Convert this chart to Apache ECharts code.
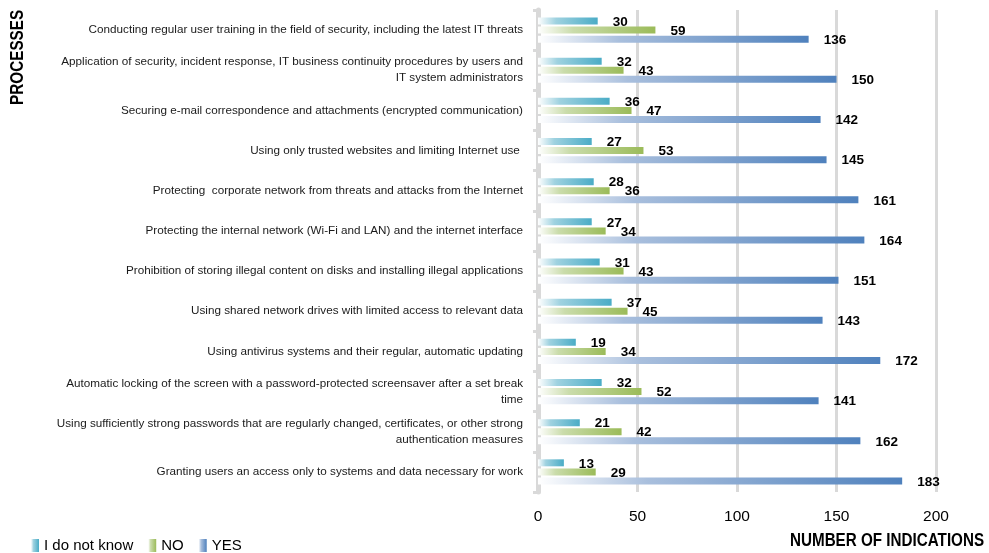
<!DOCTYPE html>
<html>
<head>
<meta charset="utf-8">
<script src="https://cdn.jsdelivr.net/npm/echarts@6/dist/echarts.min.js"></script>
<style>
  html, body { margin: 0; padding: 0; background: #fff; }
  #chart { width: 989px; height: 553px; }
</style>
</head>
<body>
<div id="chart"></div>
<script>
// Security processes, top to bottom
const categories = [
  'Conducting regular user training in the field of security, including the latest IT threats',
  'Application of security, incident response, IT business continuity procedures by users and\nIT system administrators',
  'Securing e-mail correspondence and attachments (encrypted communication)',
  'Using only trusted websites and limiting Internet use ',
  'Protecting  corporate network from threats and attacks from the Internet',
  'Protecting the internal network (Wi-Fi and LAN) and the internet interface',
  'Prohibition of storing illegal content on disks and installing illegal applications',
  'Using shared network drives with limited access to relevant data',
  'Using antivirus systems and their regular, automatic updating',
  'Automatic locking of the screen with a password-protected screensaver after a set break\ntime',
  'Using sufficiently strong passwords that are regularly changed, certificates, or other strong\nauthentication measures',
  'Granting users an access only to systems and data necessary for work'
];

const dontKnow = [30, 32, 36, 27, 28, 27, 31, 37, 19, 32, 21, 13];
const no       = [59, 43, 47, 53, 36, 34, 43, 45, 34, 52, 42, 29];
const yes      = [136, 150, 142, 145, 161, 164, 151, 143, 172, 141, 162, 183];

const seriesNames = ['I do not know', 'NO', 'YES'];
const axisTicks = [0, 50, 100, 150, 200];

const FONT = '"Liberation Sans", Arial, sans-serif';

function fade(tint, full) {
  return new echarts.graphic.LinearGradient(0, 0, 1, 0, [
    { offset: 0, color: '#ffffff' },
    { offset: 0.3, color: tint },
    { offset: 1, color: full }
  ]);
}

const fills = [
  fade('#9fd2e0', '#4aacc6'),
  fade('#cadcab', '#9bbb59'),
  fade('#a9bfdd', '#4f81bd')
];

const valueLabel = {
  show: true,
  position: 'right',
  distance: 15,
  offset: [0, 1],
  color: '#000',
  fontFamily: FONT,
  fontWeight: 'bold',
  fontSize: 13.5
};

function barSeries(i, data) {
  return {
    name: seriesNames[i],
    type: 'bar',
    data: data,
    barWidth: 7,
    barGap: '30%',
    itemStyle: { color: fills[i] },
    label: valueLabel,
    emphasis: { disabled: true }
  };
}

const chart = echarts.init(document.getElementById('chart'), null, { renderer: 'canvas' });

chart.setOption({
  animation: false,
  backgroundColor: '#fff',
  grid: { left: 538, right: 53, top: 10, bottom: 61, containLabel: false },
  legend: {
    left: 26,
    top: 533,
    itemWidth: 8,
    itemHeight: 13,
    itemGap: 15,
    icon: 'rect',
    data: seriesNames,
    textStyle: { fontFamily: FONT, fontSize: 15, color: '#000', padding: [0, 0, 0, 0] }
  },
  xAxis: {
    type: 'value',
    min: axisTicks[0],
    max: axisTicks[axisTicks.length - 1],
    interval: 50,
    axisLine: { show: false },
    axisTick: { show: false },
    axisLabel: { fontFamily: FONT, fontSize: 15.5, color: '#000', margin: 17 },
    splitLine: { show: true, lineStyle: { color: '#d9d9d9', width: 3 } }
  },
  yAxis: {
    type: 'category',
    inverse: true,
    data: categories,
    axisLine: { show: true, lineStyle: { color: '#d9d9d9', width: 5 } },
    axisTick: { show: true, length: 5, lineStyle: { color: '#d9d9d9', width: 3 } },
    axisLabel: {
      fontFamily: FONT,
      fontSize: 11.7,
      color: '#1a1a1a',
      margin: 15,
      lineHeight: 16,
      align: 'right'
    }
  },
  series: [
    barSeries(0, dontKnow),
    barSeries(1, no),
    barSeries(2, yes)
  ],
  graphic: [
    {
      type: 'text',
      x: 790,
      y: 532,
      scaleX: 0.845,
      style: {
        text: 'NUMBER OF INDICATIONS',
        fontFamily: FONT,
        fontWeight: 'bold',
        fontSize: 18,
        fill: '#000'
      }
    },
    {
      type: 'text',
      x: 9,
      y: 105,
      rotation: Math.PI / 2,
      scaleX: 0.85,
      style: {
        text: 'PROCESSES',
        fontFamily: FONT,
        fontWeight: 'bold',
        fontSize: 18,
        fill: '#000'
      }
    }
  ]
});
</script>
</body>
</html>
